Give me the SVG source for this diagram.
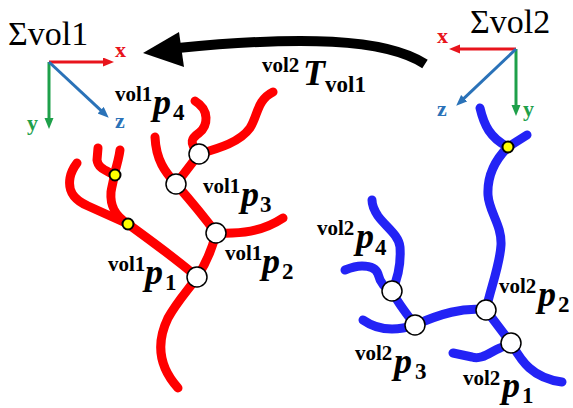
<svg xmlns="http://www.w3.org/2000/svg" width="573" height="408" viewBox="0 0 573 408">
  <defs>
    <marker id="hx" markerUnits="userSpaceOnUse" markerWidth="12" markerHeight="10" refX="4" refY="4.5" orient="auto">
      <path d="M0,0 L11,4.5 L0,9 z" fill="#e8141c"/>
    </marker>
    <marker id="hy" markerUnits="userSpaceOnUse" markerWidth="12" markerHeight="10" refX="4" refY="4.5" orient="auto">
      <path d="M0,0 L11,4.5 L0,9 z" fill="#1ea04a"/>
    </marker>
    <marker id="hz" markerUnits="userSpaceOnUse" markerWidth="12" markerHeight="10" refX="4" refY="4.5" orient="auto">
      <path d="M0,0 L11,4.5 L0,9 z" fill="#2a72b8"/>
    </marker>
  </defs>

  <rect width="573" height="408" fill="#ffffff"/>

  <!-- coordinate frame of volume 1 -->
  <g id="frame-vol1">
    <text x="8" y="45" font-family="Liberation Serif" font-size="34">Σvol1</text>
    <g fill="none" stroke-width="3">
      <path d="M49,62 L107,62" stroke="#e8141c" marker-end="url(#hx)"/>
      <path d="M49,62 L49,122" stroke="#1ea04a" marker-end="url(#hy)"/>
      <path d="M49,62 L103.6,112.9" stroke="#2a72b8" marker-end="url(#hz)"/>
    </g>
    <text x="115" y="57" font-family="Liberation Serif" font-size="22" font-weight="bold" fill="#e8141c">x</text>
    <text x="27" y="130" font-family="Liberation Serif" font-size="22" font-weight="bold" fill="#1ea04a">y</text>
    <text x="115" y="128" font-family="Liberation Serif" font-size="22" font-weight="bold" fill="#2a72b8">z</text>
  </g>

  <!-- coordinate frame of volume 2 -->
  <g id="frame-vol2">
    <text x="470" y="33" font-family="Liberation Serif" font-size="34">Σvol2</text>
    <g fill="none" stroke-width="3">
      <path d="M516,49 L456,49" stroke="#e8141c" marker-end="url(#hx)"/>
      <path d="M516,49 L516,109" stroke="#1ea04a" marker-end="url(#hy)"/>
      <path d="M516,49 L461.3,100.9" stroke="#2a72b8" marker-end="url(#hz)"/>
    </g>
    <text x="437" y="43" font-family="Liberation Serif" font-size="22" font-weight="bold" fill="#e8141c">x</text>
    <text x="523" y="116" font-family="Liberation Serif" font-size="22" font-weight="bold" fill="#1ea04a">y</text>
    <text x="437" y="116" font-family="Liberation Serif" font-size="22" font-weight="bold" fill="#2a72b8">z</text>
  </g>

  <!-- transformation from volume 2 to volume 1 -->
  <g id="connectors">
    <g id="transform">
      <path d="M425,64 C385,38 300,36 178,48" stroke="#000" stroke-width="10" fill="none"/>
      <polygon points="143,53 179,32 184,67" fill="#000"/>
    </g>
  </g>
  <g id="transform-label" font-family="Liberation Serif" font-weight="bold">
    <text font-family="Liberation Serif"><tspan x="262" y="72" font-size="21">vol2</tspan><tspan x="303" y="85" font-size="36" font-style="italic">T</tspan><tspan x="325" y="92" font-size="23">vol1</tspan></text>
  </g>

  <!-- vessel tree in volume 1 -->
  <g id="tree-vol1">
    <g fill="none" stroke="#ff0000" stroke-width="9" stroke-linecap="round" stroke-linejoin="round">
      <path d="M178,388 C160,368 155,345 168,318 C178,300 190,288 197,277 C205,265 212,250 216,233"/>
      <path d="M216,233 C205,218 190,200 176,184"/>
      <path d="M176,184 C165,172 156,160 155,137"/>
      <path d="M176,184 L199,154"/>
      <path d="M199,154 C188,142 192,138 199,133 C208,126 210,110 195,101"/>
      <path d="M199,154 C220,148 240,142 250,128 C258,115 257,100 273,92"/>
      <path d="M216,233 C240,234 262,232 283,218"/>
      <path d="M197,277 C180,262 150,240 128,224 L88,206 C72,199 68,190 70,178 C71,172 74,167 77,163"/>
      <path d="M128,224 C114,215 110,205 111,192 C112,185 114,180 114,175"/>
      <path d="M114,175 C117,165 119,158 120,150"/>
      <path d="M114,175 C105,170 98,168 97,160 L98,148"/>
    </g>
    <g fill="#ffff00" stroke="#000" stroke-width="2">
      <circle cx="115" cy="175" r="5.5"/>
      <circle cx="128" cy="224" r="5.5"/>
    </g>
  </g>
  <g fill="#ffffff" stroke="#000" stroke-width="1.5">
    <g id="v1p4-node"><circle cx="199" cy="154" r="10"/></g>
    <g id="v1p3-node"><circle cx="176" cy="184" r="10"/></g>
    <g id="v1p2-node"><circle cx="216" cy="233" r="10"/></g>
    <g id="v1p1-node"><circle cx="197" cy="277" r="10"/></g>
  </g>

  <!-- vessel tree in volume 2 -->
  <g id="tree-vol2">
    <g fill="none" stroke="#2323f5" stroke-width="9" stroke-linecap="round" stroke-linejoin="round">
      <path d="M480,108 C484,125 490,138 508,147"/>
      <path d="M508,147 L527,135"/>
      <path d="M508,147 C495,160 487,175 488,195 C489,212 502,225 501,245 C500,265 490,290 486,310"/>
      <path d="M486,310 L511,343"/>
      <path d="M511,343 C520,358 530,378 562,382"/>
      <path d="M511,343 L500,348 C490,352 482,360 472,357 L453,353"/>
      <path d="M486,310 C463,307 440,314 415,325"/>
      <path d="M415,325 C400,330 380,332 363,320"/>
      <path d="M415,325 C405,312 396,300 392,291"/>
      <path d="M392,291 C398,278 401,262 400,247 C399,235 385,226 378,216 C374,210 372,205 372,200"/>
      <path d="M392,291 C384,288 380,282 378,274 C376,268 370,266 362,266 C355,266 350,268 345,270"/>
    </g>
    <circle cx="508" cy="147" r="5.5" fill="#ffff00" stroke="#000" stroke-width="2"/>
  </g>
  <g fill="#ffffff" stroke="#000" stroke-width="1.5">
    <g id="v2p2-node"><circle cx="486" cy="310" r="10"/></g>
    <g id="v2p1-node"><circle cx="511" cy="343" r="10"/></g>
    <g id="v2p3-node"><circle cx="415" cy="325" r="10"/></g>
    <g id="v2p4-node"><circle cx="392" cy="291" r="10"/></g>
  </g>

  <!-- point labels: superscript volume, italic p, subscript index -->
  <g font-weight="bold">
    <g id="v1p4-label"><text font-family="Liberation Serif"><tspan x="115" y="101" font-size="21">vol1</tspan><tspan x="153" y="114" font-size="36" font-style="italic">p</tspan><tspan x="173" y="120" font-size="23">4</tspan></text></g>
    <g id="v1p3-label"><text font-family="Liberation Serif"><tspan x="203" y="193" font-size="21">vol1</tspan><tspan x="241" y="206" font-size="36" font-style="italic">p</tspan><tspan x="260" y="212" font-size="23">3</tspan></text></g>
    <g id="v1p2-label"><text font-family="Liberation Serif"><tspan x="225" y="260" font-size="21">vol1</tspan><tspan x="262" y="273" font-size="36" font-style="italic">p</tspan><tspan x="282" y="279" font-size="23">2</tspan></text></g>
    <g id="v1p1-label"><text font-family="Liberation Serif"><tspan x="108" y="271" font-size="21">vol1</tspan><tspan x="145" y="284" font-size="36" font-style="italic">p</tspan><tspan x="165" y="290" font-size="23">1</tspan></text></g>
    <g id="v2p4-label"><text font-family="Liberation Serif"><tspan x="317" y="235" font-size="21">vol2</tspan><tspan x="356" y="248" font-size="36" font-style="italic">p</tspan><tspan x="375" y="255" font-size="23">4</tspan></text></g>
    <g id="v2p2-label"><text font-family="Liberation Serif"><tspan x="499" y="293" font-size="21">vol2</tspan><tspan x="538" y="306" font-size="36" font-style="italic">p</tspan><tspan x="558" y="312" font-size="23">2</tspan></text></g>
    <g id="v2p3-label"><text font-family="Liberation Serif"><tspan x="355" y="360" font-size="21">vol2</tspan><tspan x="394" y="373" font-size="36" font-style="italic">p</tspan><tspan x="415" y="379" font-size="23">3</tspan></text></g>
    <g id="v2p1-label"><text font-family="Liberation Serif"><tspan x="463" y="385" font-size="21">vol2</tspan><tspan x="502" y="397" font-size="36" font-style="italic">p</tspan><tspan x="522" y="403" font-size="23">1</tspan></text></g>
  </g>
</svg>
